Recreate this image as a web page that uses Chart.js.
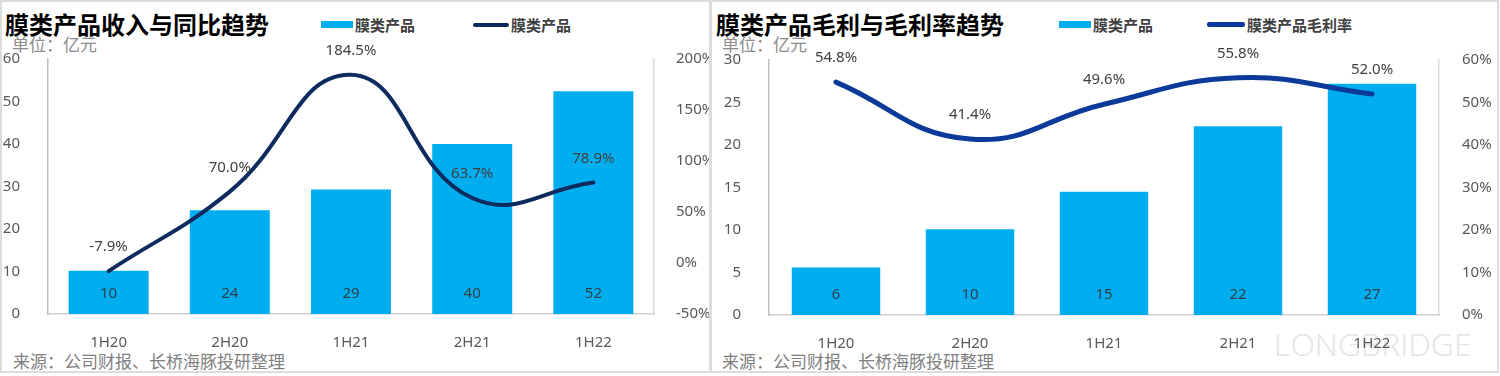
<!DOCTYPE html>
<html>
<head>
<meta charset="utf-8">
<script src="https://cdn.jsdelivr.net/npm/chart.js@4"></script>
<style>
  body { margin: 0; width: 1500px; height: 376px; background: #fff; font-family: 'Noto Sans', 'Noto Sans CJK SC', sans-serif; overflow: hidden; }
  .panel { position: absolute; top: 0; height: 373px; border: 2px solid #dcdcdc; box-sizing: border-box; }
  .panel canvas { position: absolute; left: 0; top: 0; z-index: 2; }
  .title { position: absolute; top: 6px; font: bold 24px 'Noto Sans CJK SC', sans-serif; color: #000; white-space: nowrap; }
  .unit { position: absolute; top: 31px; font: 17px 'Noto Sans CJK SC', sans-serif; color: #8c8c8c; }
  .source { position: absolute; top: 348px; font: 17px 'Noto Sans CJK SC', sans-serif; color: #808080; white-space: nowrap; }
  .leg { position: absolute; top: 14px; font: bold 15px 'Noto Sans CJK SC', sans-serif; color: #404040; white-space: nowrap; display: flex; align-items: center; }
  .leg i { display: inline-block; margin-right: 2px; }
  .wm { position: absolute; left: 1274px; top: 322px; line-height: 40px; font: 300 32px 'Open Sans', sans-serif; color: #e4e4e4; z-index: 1; white-space: nowrap; }
</style>
</head>
<body>
<div class="panel" style="left:0; width:711px;">
  <canvas id="chartLeft" width="707" height="369"></canvas>
</div>
<div class="panel" style="left:710px; width:789px;">
  <canvas id="chartRight" width="785" height="369"></canvas>
</div>
<div class="wm">LONGBRIDGE</div>

<div class="title" style="left:5px;">膜类产品收入与同比趋势</div>
<div class="leg" style="left:321px;"><i style="width:32px;height:7px;background:#00AEEF"></i>膜类产品</div>
<div class="leg" style="left:473px;"><i style="width:36px;height:4px;background:#0D2B5E;border-radius:2px"></i>膜类产品</div>
<div class="unit" style="left:12px;">单位：亿元</div>
<div class="source" style="left:13px;">来源：公司财报、长桥海豚投研整理</div>

<div class="title" style="left:716px;">膜类产品毛利与毛利率趋势</div>
<div class="leg" style="left:1059px;"><i style="width:32px;height:7px;background:#00AEEF"></i>膜类产品</div>
<div class="leg" style="left:1207px;"><i style="width:38px;height:5px;background:#0B3A9B;border-radius:2px"></i>膜类产品毛利率</div>
<div class="unit" style="left:722px;">单位：亿元</div>
<div class="source" style="left:722px;">来源：公司财报、长桥海豚投研整理</div>

<script>
const periods = ['1H20', '2H20', '1H21', '2H21', '1H22'];

// 左图：收入（亿元）与同比
const revenue = [10.2, 24.4, 29.3, 40.0, 52.4];
const revenueYoY = [-7.9, 70.0, 184.5, 63.7, 78.9];

// 右图：毛利（亿元）与毛利率
const grossProfit = [5.6, 10.1, 14.5, 22.2, 27.2];
const grossMargin = [54.8, 41.4, 49.6, 55.8, 52.0];

const barColor = '#00AEEF';
const tickFont = { family: "'Noto Sans', 'Noto Sans CJK SC', sans-serif", size: 15 };

// simple data label plugin (no datalabels plugin offline)
const valueLabels = {
    id: 'valueLabels',
    afterDatasetsDraw(chart) {
        const ctx = chart.ctx;
        ctx.save();
        ctx.font = "15px 'Noto Sans', 'Noto Sans CJK SC', sans-serif";
        ctx.textAlign = 'center';
        ctx.textBaseline = 'middle';
        chart.data.datasets.forEach((ds, i) => {
            const meta = chart.getDatasetMeta(i);
            meta.data.forEach((el, j) => {
                if (ds.type === 'bar') {
                    ctx.fillStyle = '#2f3f4a';
                    ctx.fillText(Math.round(ds.data[j]), el.x, el.base - 20);
                } else {
                    ctx.fillStyle = '#404040';
                    ctx.fillText(ds.data[j].toFixed(1) + '%', el.x, el.y - 24);
                }
            });
        });
        ctx.restore();
    }
};

const makeChart = (id, cfg) => {
    const ctx = document.getElementById(id);
    return new Chart(ctx, {
        data: {
            labels: periods,
            datasets: [{
                type: 'line',
                data: cfg.lineData,
                yAxisID: 'y1',
                borderColor: cfg.lineColor,
                borderWidth: cfg.lineWidth,
                tension: 0.45,
                pointRadius: 0,
                borderCapStyle: 'round',
                order: 0
            }, {
                type: 'bar',
                data: cfg.barData,
                yAxisID: 'y',
                backgroundColor: barColor,
                barPercentage: 0.66,
                categoryPercentage: 1,
                order: 1
            }]
        },
        options: {
            responsive: false,
            animation: false,
            layout: { padding: { top: cfg.top, left: 0, right: 0, bottom: 0 } },
            plugins: { legend: { display: false }, tooltip: { enabled: false } },
            scales: {
                x: {
                    grid: { display: false },
                    border: { color: '#d0d0d0', width: 1.5 },
                    ticks: { color: '#595959', font: tickFont, padding: 12 },
                    afterFit: (scale) => { scale.height = cfg.bottom; }
                },
                y: {
                    position: 'left',
                    min: cfg.yMin, max: cfg.yMax,
                    grid: { display: false },
                    border: { color: '#bfbfbf', width: 1.5 },
                    ticks: { color: '#595959', font: tickFont, stepSize: cfg.yStep, padding: cfg.leftPad },
                    afterFit: (scale) => { scale.width = cfg.leftW; }
                },
                y1: {
                    position: 'right',
                    min: cfg.y1Min, max: cfg.y1Max,
                    grid: { display: false },
                    border: { color: '#d9d9d9', width: 1.5 },
                    ticks: { color: '#595959', font: tickFont, stepSize: cfg.y1Step, padding: cfg.rightPad,
                        callback: (v) => v + '%' },
                    afterFit: (scale) => { scale.width = cfg.rightW; }
                }
            }
        },
        plugins: [valueLabels]
    });
};

makeChart('chartLeft', {
    barData: revenue, lineData: revenueYoY,
    lineColor: '#0D2B5E', lineWidth: 4,
    yMin: 0, yMax: 60, yStep: 10,
    y1Min: -50, y1Max: 200, y1Step: 50,
    top: 57, bottom: 57, leftW: 46, rightW: 55, leftPad: 20, rightPad: 14
});

makeChart('chartRight', {
    barData: grossProfit, lineData: grossMargin,
    lineColor: '#0B3A9B', lineWidth: 5,
    yMin: 0, yMax: 30, yStep: 5,
    y1Min: 0, y1Max: 60, y1Step: 10,
    top: 58, bottom: 56, leftW: 57, rightW: 58, leftPad: 20, rightPad: 15
});
</script>
</body>
</html>
